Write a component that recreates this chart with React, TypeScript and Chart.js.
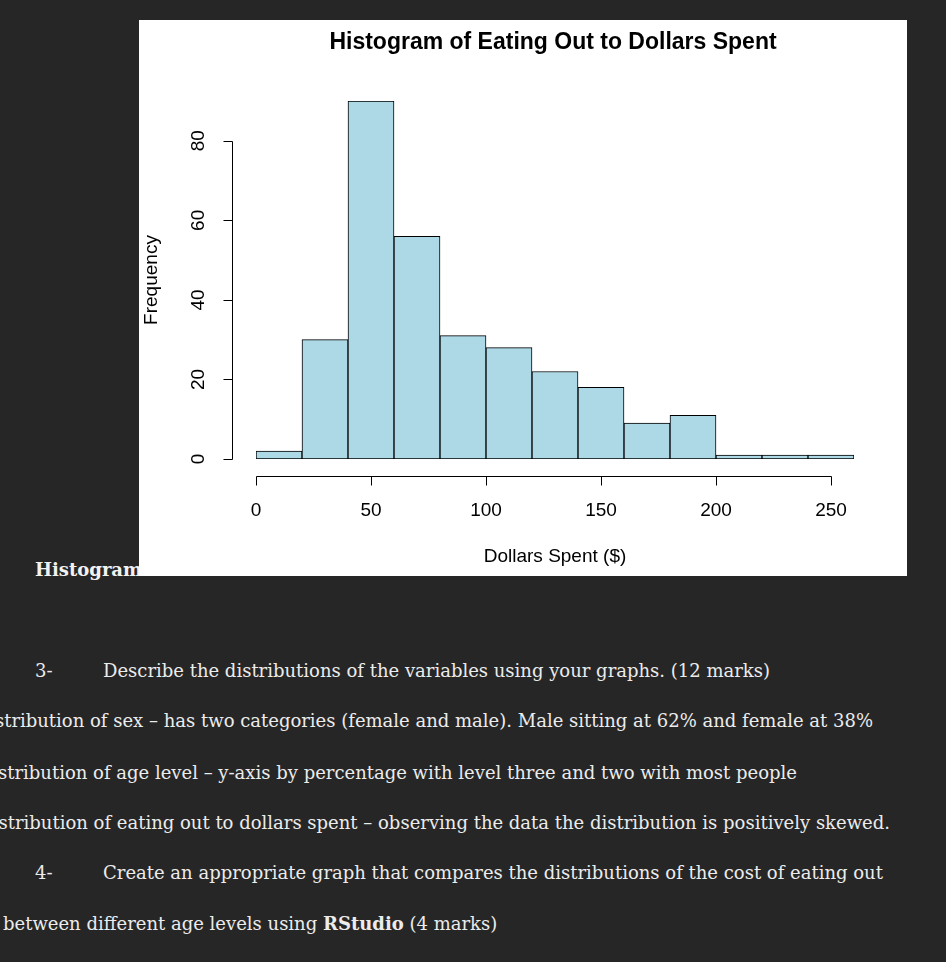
import React, { useEffect, useRef } from "react";
import { Chart, registerables } from "chart.js";

Chart.register(...registerables);

const binEdges = [0, 20, 40, 60, 80, 100, 120, 140, 160, 180, 200, 220, 240, 260];
const counts = [2, 30, 90, 56, 31, 28, 22, 18, 9, 11, 1, 1, 1];
const xTicks = [0, 50, 100, 150, 200, 250];
const yTicks = [0, 20, 40, 60, 80];
const yMax = 90;
const title = "Histogram of Eating Out to Dollars Spent";
const xTitle = "Dollars Spent ($)";
const yTitle = "Frequency";

const rAxes = {
  id: "rAxes",
  afterDraw(chart: any) {
    const { ctx, chartArea, scales } = chart;
    const x = scales.x;
    const y = scales.y;
    ctx.save();
    ctx.strokeStyle = "#000";
    ctx.fillStyle = "#000";
    ctx.lineWidth = 1;
    // title
    ctx.font = "bold 23px 'Liberation Sans', Arial, sans-serif";
    ctx.textAlign = "center";
    ctx.textBaseline = "middle";
    const cx = (chartArea.left + chartArea.right) / 2;
    ctx.fillText(title, cx - 2, 23);

    // y axis
    const ax = Math.round(chartArea.left - 24) + 0.5;
    const yTop = Math.round(y.getPixelForValue(yTicks[yTicks.length - 1])) + 0.5;
    const yBot = Math.round(y.getPixelForValue(yTicks[0])) + 0.5;
    ctx.beginPath();
    ctx.moveTo(ax, yTop);
    ctx.lineTo(ax, yBot);
    yTicks.forEach((t) => {
      const py = Math.round(y.getPixelForValue(t)) + 0.5;
      ctx.moveTo(ax, py);
      ctx.lineTo(ax - 9, py);
    });
    ctx.stroke();
    ctx.font = "19px 'Liberation Sans', Arial, sans-serif";
    yTicks.forEach((t) => {
      const py = y.getPixelForValue(t);
      ctx.save();
      ctx.translate(ax - 34, py);
      ctx.rotate(-Math.PI / 2);
      ctx.fillText(String(t), 0, 0);
      ctx.restore();
    });
    ctx.save();
    ctx.translate(chartArea.left - 104, (chartArea.top + chartArea.bottom) / 2);
    ctx.rotate(-Math.PI / 2);
    ctx.fillText(yTitle, 0, 0);
    ctx.restore();

    // x axis
    const ay = Math.round(chartArea.bottom + 17) + 0.5;
    const xl = Math.round(x.getPixelForValue(xTicks[0])) + 0.5;
    const xr = Math.round(x.getPixelForValue(xTicks[xTicks.length - 1])) + 0.5;
    ctx.beginPath();
    ctx.moveTo(xl, ay);
    ctx.lineTo(xr, ay);
    xTicks.forEach((t) => {
      const px = Math.round(x.getPixelForValue(t)) + 0.5;
      ctx.moveTo(px, ay);
      ctx.lineTo(px, ay + 9);
    });
    ctx.stroke();
    xTicks.forEach((t) => {
      ctx.fillText(String(t), x.getPixelForValue(t), ay + 34);
    });
    ctx.fillText(xTitle, cx, ay + 80);
    ctx.restore();
  },
};

function HistChart() {
  const ref = useRef<HTMLCanvasElement | null>(null);
  useEffect(() => {
    if (!ref.current) return;
    const data = counts.map((c, i) => ({ x: (binEdges[i] + binEdges[i + 1]) / 2, y: c }));
    const chart = new Chart(ref.current, {
      type: "bar",
      data: {
        datasets: [
          {
            data: data as any,
            backgroundColor: "#add8e6",
            borderColor: "#000",
            borderWidth: 1,
            borderSkipped: false,
            barPercentage: 1,
            categoryPercentage: 1,
          },
        ],
      },
      options: {
        responsive: false,
        animation: false,
        layout: { padding: { left: 117, right: 53, top: 81, bottom: 117 } },
        plugins: { legend: { display: false }, tooltip: { enabled: false }, title: { display: false } },
        scales: {
          x: {
            type: "linear",
            display: false,
            offset: false,
            min: binEdges[0],
            max: binEdges[binEdges.length - 1],
            ticks: { stepSize: 20 },
          },
          y: { display: false, min: 0, max: yMax },
        },
      },
      plugins: [rAxes],
    });
    return () => chart.destroy();
  }, []);
  return <canvas ref={ref} width={768} height={556} style={{ display: "block", width: 768, height: 556 }} />;
}

const bodyFont = "'DejaVu Serif', 'Liberation Serif', serif";
const textColor = "#ececec";

const lineStyle = (top: number): React.CSSProperties => ({
  position: "absolute",
  top,
  fontFamily: bodyFont,
  fontSize: 18,
  lineHeight: "24px",
  color: textColor,
  whiteSpace: "nowrap",
});

export default function App() {
  return (
    <div
      style={{
        position: "fixed",
        left: 0,
        top: 0,
        width: 946,
        height: 962,
        background: "#262626",
        overflow: "hidden",
      }}
    >
      <div style={{ ...lineStyle(558), left: 35, fontWeight: "bold", color: "#f2f2f2" }}>Histogram</div>
      <div style={{ position: "absolute", left: 139, top: 20, width: 768, height: 556, background: "#fff" }}>
        <HistChart />
      </div>
      <div style={{ ...lineStyle(659), left: 35 }}>3-</div>
      <div style={{ ...lineStyle(659), left: 103 }}>Describe the distributions of the variables using your graphs. (12 marks)</div>
      <div style={{ ...lineStyle(709), right: 73 }}>
        Distribution of sex – has two categories (female and male). Male sitting at 62% and female at 38%
      </div>
      <div style={{ ...lineStyle(761), right: 149 }}>
        Distribution of age level – y-axis by percentage with level three and two with most people
      </div>
      <div style={{ ...lineStyle(811), right: 56 }}>
        Distribution of eating out to dollars spent – observing the data the distribution is positively skewed.
      </div>
      <div style={{ ...lineStyle(861), left: 35 }}>4-</div>
      <div style={{ ...lineStyle(861), left: 103 }}>
        Create an appropriate graph that compares the distributions of the cost of eating out
      </div>
      <div style={{ ...lineStyle(912), left: 3 }}>
        between different age levels using <b>RStudio</b> (4 marks)
      </div>
    </div>
  );
}
